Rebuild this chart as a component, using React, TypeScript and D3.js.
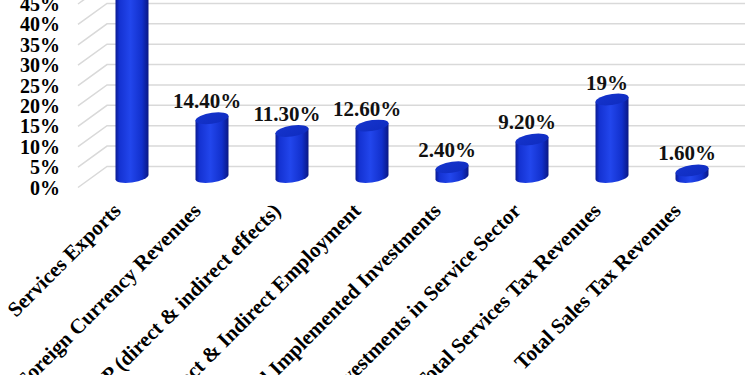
import React from 'react';
import * as d3 from 'd3';

const categories = [
  'Services Exports',
  'Foreign Currency Revenues',
  'GDP (direct & indirect effects)',
  'Direct & Indirect Employment',
  'Total Implemented Investments',
  'Investments in Service Sector',
  'Total Services Tax Revenues',
  'Total Sales Tax Revenues',
];
const values = [48, 14.4, 11.3, 12.6, 2.4, 9.2, 19, 1.6];
const valueLabels = ['48%', '14.40%', '11.30%', '12.60%', '2.40%', '9.20%', '19%', '1.60%'];
const yTicks = [0, 5, 10, 15, 20, 25, 30, 35, 40, 45];

const W = 750;
const H = 375;
const FONT = '"Liberation Serif", "Times New Roman", serif';

// floor depth offsets (front edge -> back wall)
const depthX = 29;
const depthY = -21;

const App: React.FC = () => {
  const x = d3.scaleBand<string>().domain(categories).range([92, 732]);
  const yFront = d3.scaleLinear().domain([0, 45]).range([187.5, 4]);
  const yBar = d3.scaleLinear().domain([0, 45]).range([177, 177 - 183.5]);

  const rx = 16.5;
  const ry = 5.5;

  return (
    <svg
      width={W}
      height={H}
      style={{ position: 'absolute', left: 0, top: 0, background: '#fff' }}
    >
      <defs>
        <linearGradient id="cylBody" x1="0" x2="1" y1="0" y2="0">
          <stop offset="0" stopColor="#0a1b92" />
          <stop offset="0.12" stopColor="#1432d2" />
          <stop offset="0.45" stopColor="#2246ec" />
          <stop offset="0.8" stopColor="#1230cc" />
          <stop offset="1" stopColor="#0a1784" />
        </linearGradient>
        <linearGradient id="cylTop" x1="0" x2="1" y1="0" y2="1">
          <stop offset="0" stopColor="#1534cc" />
          <stop offset="1" stopColor="#0f2cc0" />
        </linearGradient>
      </defs>

      {/* gridlines: floor diagonal + back wall */}
      <g stroke="#d9d9d9" strokeWidth={1.5} fill="none">
        {yTicks.map(t => {
          const yf = yFront(t);
          return (
            <path
              key={t}
              d={`M78,${yf} L${78 + depthX},${yf + depthY} L745,${yf + depthY}`}
            />
          );
        })}
      </g>

      {/* y axis labels */}
      <g fontFamily={FONT} fontWeight="bold" fontSize={20} fill="#000" textAnchor="end">
        {yTicks.map(t => (
          <text key={t} x={60} y={yFront(t)} dy="0.35em">
            {t}%
          </text>
        ))}
      </g>

      {/* cylinders */}
      {categories.map((c, i) => {
        const cx = (x(c) ?? 0) + x.bandwidth() / 2;
        const yb = yBar(0);
        const yt = yBar(values[i]);
        const body = `M${cx - rx},${yt} L${cx - rx},${yb} A${rx},${ry} 0 0 0 ${cx + rx},${yb} L${cx + rx},${yt} Z`;
        return (
          <g key={c} transform={`translate(${cx},${yb}) skewY(-8) translate(${-cx},${-yb})`}>
            <path d={body} fill="url(#cylBody)" />
            <ellipse cx={cx} cy={yt} rx={rx} ry={ry} fill="url(#cylTop)" />
          </g>
        );
      })}

      {/* value labels */}
      <g fontFamily={FONT} fontWeight="bold" fontSize={21} fill="#111" textAnchor="middle">
        {categories.map((c, i) => {
          const cx = (x(c) ?? 0) + x.bandwidth() / 2;
          return (
            <text key={c} x={cx - 5} y={yBar(values[i]) - 10}>
              {valueLabels[i]}
            </text>
          );
        })}
      </g>

      {/* category labels */}
      <g fontFamily={FONT} fontWeight="bold" fontSize={21} fill="#000" textAnchor="end">
        {categories.map(c => {
          const cx = (x(c) ?? 0) + x.bandwidth() / 2;
          const ax = cx - 10;
          const ay = 212;
          return (
            <text key={c} x={ax} y={ay} transform={`rotate(-45 ${ax} ${ay})`}>
              {c}
            </text>
          );
        })}
      </g>
    </svg>
  );
};

export default App;
